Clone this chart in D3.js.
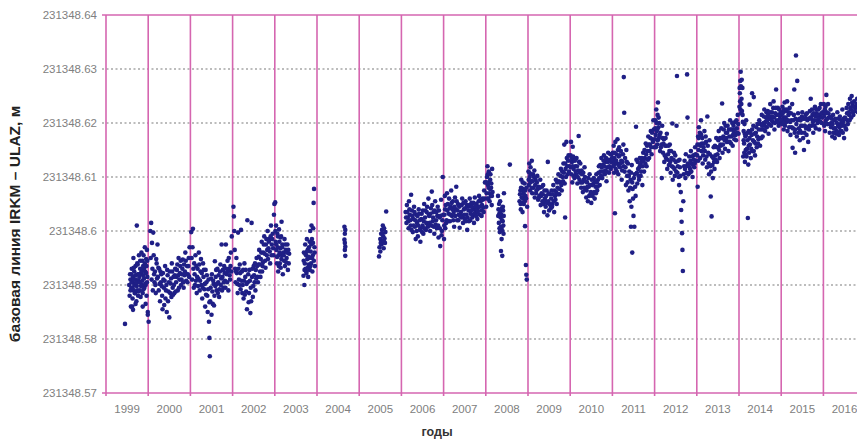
<!DOCTYPE html>
<html>
<head>
<meta charset="utf-8">
<script src="https://cdn.jsdelivr.net/npm/d3@7"></script>
<style>
    body { margin: 0; background: #fff; }
    svg { display: block; font-family: "Liberation Sans", Arial, sans-serif; }
</style>
</head>
<body>
<div id="chart-area"></div>
<script>

// base of the baseline length, metres; values below are mm above it
var BASE = 231348;

// [fraction of the year, mm above 231348 m]
var y1999 = [[.45,582.8],[.55,590],[.56,588],[.57,592],[.58,591],[.59,586],[.60,589.5],[.61,593],[.62,590.5],[.62,586],[.63,587.5],[.64,591.5],[.64,585.4],[.65,595],[.66,589],[.67,592.5],[.68,588.5],[.69,590.3],[.70,593.5],[.71,591],[.72,587],[.73,601],[.73,589.8],[.74,594],[.75,592],[.76,588],[.77,590.8],[.78,595.5],[.79,591.5],[.80,589],[.81,593],[.82,587.8],[.83,592.2],[.84,596],[.85,590],[.86,594.5],[.87,588.5],[.88,591.8],[.89,595.5],[.90,593],[.91,589.5],[.92,597],[.93,592.5],[.94,590],[.95,594.8],[.96,588],[.97,596.5],[.98,591.5],[.99,585],[.99,584.5],
    [.58,589],[.6,592],[.61,590.5],[.63,589.5],[.65,591],[.66,593.2],[.67,590],[.69,588.5],[.7,591.8],[.72,590.5],[.74,589],[.75,593.8],[.77,588.8],[.78,592],[.8,590.5],[.81,594.5],[.83,589.8],[.85,592.5],[.86,590.8],[.88,593.5],[.89,589.2],[.9,591.2],[.92,594],[.93,590.2],[.95,592.2],[.96,593.5],[.97,590.5],[.98,594.5],[.94,586.5],[.87,586],[.7,586.5]];
var y2000 = [[.01,583.2],[.05,600],[.06,595],[.07,601.5],[.08,591],[.09,597.8],[.1,593],[.11,589],[.12,599.7],[.13,595.5],[.15,590.5],[.16,592.5],[.18,588.5],[.2,594],[.22,597.5],[.23,591.5],[.25,589],[.26,593],[.28,587],[.3,590.5],[.31,592],[.33,588],[.34,585.5],[.36,591],[.37,589.5],[.38,586.3],[.4,593.5],[.41,587.5],[.43,590],[.44,585],[.46,591.8],[.48,588.8],[.5,584],[.51,592.5],[.53,590.3],[.55,587.8],[.56,594],[.58,589.5],[.6,591.5],[.62,588.5],[.64,593],[.66,590.5],[.68,592.8],[.7,589],[.72,595],[.74,591],[.76,593.5],[.78,590],[.8,592],[.82,594.7],[.84,589.5],[.86,591.8],[.88,596],[.9,590.8],[.92,593.5],[.94,592],[.96,595],[.98,597],
    [.14,592],[.17,590],[.19,594.8],[.21,591.2],[.24,593.2],[.27,590.2],[.29,592.5],[.32,589.8],[.35,592.2],[.39,590.8],[.42,589],[.45,592.8],[.47,587],[.49,590.5],[.52,588.5],[.54,591.2],[.57,592.5],[.59,588.2],[.61,590],[.63,591.8],[.65,588.8],[.67,591.5],[.69,593.8],[.71,591.8],[.73,589.5],[.75,592.2],[.77,594.5],[.79,591],[.81,593],[.83,590.5],[.85,593.8],[.87,592.5],[.89,594.5],[.91,592],[.93,590.5],[.95,593.5],[.97,591.5]];
var y2001 = [[.02,599.8],[.03,595],[.04,591],[.05,597],[.06,600.4],[.07,593],[.08,589.5],[.1,592],[.12,595.5],[.13,590.8],[.15,588.5],[.17,593],[.19,591.2],[.2,596],[.22,589],[.24,592.5],[.26,590],[.28,587.5],[.3,594],[.31,591.5],[.33,589.2],[.35,586],[.36,592.8],[.38,590.5],[.4,588],[.41,585],[.43,591],[.44,583.2],[.45,580.2],[.46,576.8],[.47,587],[.48,589.5],[.5,584.5],[.51,592],[.53,586.5],[.55,590.2],[.57,588],[.58,594.4],[.6,591.5],[.62,589],[.64,593],[.66,590.5],[.68,587.8],[.7,592.5],[.72,590],[.74,597.5],[.76,591.5],[.78,589.5],[.8,593.5],[.82,590.8],[.84,597.5],[.86,592],[.88,594.5],[.9,589],[.92,593],[.94,591],[.96,596],[.98,599],
    [.09,594],[.11,590],[.14,593.5],[.16,591.5],[.18,589.8],[.21,593.8],[.23,590.8],[.25,594.8],[.27,592.2],[.29,589.5],[.32,592.8],[.34,590.2],[.37,588.2],[.39,591.8],[.42,589.2],[.45,586.8],[.49,591.2],[.52,588.8],[.54,590.8],[.56,586.2],[.59,589.8],[.61,592.8],[.63,590.2],[.65,588.5],[.67,591.8],[.69,589.2],[.71,593.8],[.73,591.2],[.75,589],[.77,592.8],[.79,590.5],[.81,592.2],[.83,589.5],[.85,593],[.87,590.5],[.89,592.5],[.91,595],[.93,591.8],[.95,593.5],[.97,592.5]];
var y2002 = [[.02,604.5],[.03,602.7],[.04,600],[.05,596.5],[.06,593],[.07,590.5],[.09,595],[.1,592.2],[.12,588.5],[.13,599.7],[.15,591],[.17,593.8],[.19,589.2],[.2,600.2],[.22,592.5],[.24,590],[.26,587.5],[.28,594],[.3,591.5],[.32,588.8],[.34,585.5],[.35,602],[.36,590.5],[.38,586.8],[.4,592.8],[.42,584.8],[.43,589.5],[.45,601.5],[.46,591.5],[.48,587.8],[.5,593.5],[.52,590.5],[.55,592.8],[.57,595],[.59,591.5],[.61,593.8],[.63,596.5],[.65,592.5],[.67,594.8],[.69,598],[.71,593.5],[.73,596],[.75,599],[.77,594.5],[.79,597.5],[.81,595.5],[.83,600],[.85,596.8],[.87,598.5],[.89,594],[.91,601],[.93,597.5],[.95,599.5],[.97,595.5],[.98,603],[.99,605],
    [.08,592.5],[.11,590.2],[.14,593],[.16,590],[.18,592.2],[.21,590.8],[.23,588.5],[.25,592.8],[.27,590.8],[.29,588.2],[.31,592.8],[.33,590.2],[.37,592],[.39,588.5],[.41,590.8],[.44,587],[.47,593],[.49,589.8],[.51,591.8],[.53,594],[.54,589],[.56,591.2],[.58,593.5],[.6,590.5],[.62,595.2],[.64,593.8],[.66,591.5],[.68,596],[.7,592.5],[.72,594.2],[.74,597.5],[.76,595.8],[.78,593.2],[.8,598.5],[.82,596.5],[.84,594.8],[.86,598],[.88,596.2],[.9,599],[.92,595.5],[.94,598.5],[.96,596.8]];
var y2003 = [[.01,605.3],[.02,598],[.03,601],[.04,596.5],[.05,594],[.06,599.5],[.07,597],[.08,592.5],[.09,595.5],[.1,600.3],[.11,598],[.12,594],[.13,596.8],[.14,593.2],[.15,599],[.16,601.7],[.17,595.5],[.18,597.5],[.19,592],[.2,596],[.22,594.5],[.23,598.5],[.24,593.5],[.26,596.5],[.28,595],[.3,597.5],[.31,592.8],[.33,594],[.34,595.8],
    [.015,600],[.035,597.5],[.055,595.2],[.075,599],[.095,593.5],[.115,596],[.135,598.8],[.155,594.8],[.175,597],[.21,595.5],[.25,597.5],[.27,594.2],[.29,596],[.32,596.5],
    [.68,591.7],[.69,596],[.7,590],[.71,594],[.72,597.5],[.73,593],[.74,595.5],[.75,592.2],[.76,598.5],[.77,594.8],[.78,596.5],[.79,591.5],[.8,593.8],[.81,597],[.82,595],[.83,592.8],[.84,600],[.85,596.2],[.86,594],[.87,601],[.88,598.5],[.89,592.5],[.9,595.5],[.91,600.5],[.92,605.2],[.93,607.8],[.94,597],[.95,593.5],
    [.685,594.5],[.705,592.8],[.725,595.8],[.745,592.5],[.765,596.2],[.785,593.2],[.805,595.2],[.825,598],[.845,593.5],[.865,597.5],[.885,595],[.905,597.8],[.925,594.5],[.945,596]];
var y2004 = [[.65,600.8],[.67,600.2],[.66,599.5],[.65,598.4],[.66,597.8],[.67,597.1],[.67,595.4],[.66,596.5]];
var y2005 = [[.47,595.3],[.48,597],[.5,598.5],[.5,596.2],[.52,599.5],[.53,597.5],[.54,600.2],[.55,598],[.56,601],[.57,599],[.58,596.8],[.59,600.5],[.6,598.6],[.61,597.8],[.62,599.8],[.64,603.6],[.51,597.8],[.55,599.5],[.58,598.2]];
var y2006 = [[.1,603.5],[.12,601.5],[.13,604.8],[.15,602.5],[.17,600.5],[.18,605.5],[.2,603],[.22,601],[.23,606.7],[.25,603.8],[.27,599.8],[.28,602.2],[.3,604.5],[.32,600.8],[.34,598.5],[.35,603],[.37,601.5],[.39,599],[.41,604],[.43,602],[.45,598],[.46,600.5],[.48,603.2],[.5,601],[.52,599.5],[.54,605],[.56,602.5],[.58,600.2],[.6,603.5],[.62,601.2],[.64,606],[.66,602.8],[.68,600],[.7,604.2],[.72,607.3],[.74,601.8],[.76,603.5],[.78,599.5],[.8,605.5],[.82,602],[.84,600.5],[.86,604.5],[.88,598.8],[.9,602.5],[.92,597.2],[.94,605.8],[.96,600],[.98,610],[.99,603],
    [.11,602.5],[.14,603.5],[.16,601.8],[.19,604],[.21,602],[.24,600.2],[.26,602.8],[.29,601],[.31,603.5],[.33,602],[.36,600],[.38,602.8],[.4,601],[.42,603.2],[.44,600.2],[.47,602.2],[.49,599.8],[.51,603.8],[.53,601.8],[.55,600.5],[.57,603.8],[.59,601.5],[.61,604.5],[.63,600.8],[.65,603],[.67,601.5],[.69,603.2],[.71,601],[.73,604.8],[.75,602.5],[.77,600.8],[.79,603.8],[.81,601.2],[.83,603.5],[.85,602.8],[.87,601],[.89,603.8],[.91,600.5],[.93,602.8],[.95,599.2],[.97,602]];
var y2007 = [[.01,598.5],[.02,603],[.03,606.5],[.04,600.5],[.05,604.8],[.07,602],[.08,607],[.1,605],[.12,603.2],[.13,606],[.15,601.8],[.17,604.5],[.18,607.5],[.2,602.8],[.22,605.5],[.24,603.5],[.25,600.8],[.27,606.2],[.29,604],[.3,608.2],[.32,602],[.34,605],[.36,603],[.38,600.6],[.4,604.8],[.42,602.5],[.44,606],[.46,601.5],[.48,604],[.5,602.2],[.52,605.5],[.54,603],[.56,600.2],[.58,604.5],[.6,601.8],[.62,606],[.64,603.2],[.66,605.2],[.68,602.5],[.7,604],[.72,601.5],[.74,606.2],[.76,603.5],[.78,605],[.8,602.2],[.82,604.5],[.84,606.5],[.86,603],[.88,605.5],[.9,602.8],[.92,606],[.94,604.3],[.96,607.5],[.98,609],
    [.015,601],[.035,604],[.06,601.5],[.09,603.8],[.11,601.8],[.14,604.2],[.16,603],[.19,605.2],[.21,604],[.23,602],[.26,604.5],[.28,602.8],[.31,605.5],[.33,603.8],[.35,602],[.37,604.5],[.39,602.8],[.41,603.5],[.43,604.8],[.45,602.8],[.47,605.2],[.49,603],[.51,604.2],[.53,601.8],[.55,604.8],[.57,602.5],[.59,603.8],[.61,604.8],[.63,602],[.65,603.8],[.67,604.5],[.69,603],[.71,605.2],[.73,603.2],[.75,604.5],[.77,602.8],[.79,604],[.81,603.5],[.83,605.5],[.85,604.5],[.87,605.8],[.89,603.8],[.91,604.8],[.93,605.8],[.95,603.5],[.97,606]];
var y2008 = [[.01,604.5],[.02,607],[.03,610],[.04,612],[.05,608.5],[.06,606],[.07,611],[.08,609],[.09,605.5],[.1,607.8],[.11,610.5],[.12,606.5],[.13,608.8],[.14,604.8],[.15,611.5],[.16,607.2],[.29,606.5],[.3,604],[.31,601.5],[.32,603.2],[.33,599.8],[.34,605.5],[.35,602.5],[.36,596.3],[.37,600.5],[.38,604.2],[.39,595.4],[.4,601.8],[.41,603.8],[.42,599.5],[.43,607],[.57,612.3],[.8,605.5],[.82,607.5],[.83,604],[.84,609.5],[.85,606.2],[.87,603.5],[.88,607.8],[.9,605],[.92,608.8],[.93,600.9],[.94,606.5],[.95,593.7],[.96,591.9],[.97,591],[.98,604.5],
    [.015,609],[.035,606],[.045,610.5],[.065,608],[.085,607],[.105,609.5],[.125,608],[.145,606.5],
    [.295,602.8],[.315,605],[.325,600.5],[.345,603.5],[.355,600.8],[.365,603],[.375,598.5],[.385,602],[.395,600],[.405,604.5],[.415,601],[.425,602.8],
    [.81,606.8],[.825,605],[.835,608],[.855,607.5],[.865,605.2],[.875,609],[.885,606],[.895,607],[.91,606.5],[.925,605.5],[.935,607.5],[.955,606],[.965,608]];
var y2009 = [[.01,611],[.02,608.5],[.03,612.5],[.04,610],[.05,607.5],[.06,611.8],[.08,609.2],[.09,613],[.1,607],[.12,610.5],[.13,608],[.15,611.2],[.16,606.2],[.18,609.5],[.2,607.5],[.22,610.2],[.24,605.8],[.25,608.2],[.27,606.5],[.29,609.5],[.3,604.8],[.32,607],[.34,605.5],[.36,608.5],[.38,603.5],[.4,606],[.42,604.5],[.44,607.5],[.46,602.9],[.47,612.8],[.48,605.5],[.5,603.8],[.52,606.8],[.54,604.2],[.56,607.5],[.58,605],[.6,608.5],[.62,603.5],[.64,606.5],[.66,609.5],[.68,605],[.7,608],[.72,610.5],[.74,606.8],[.76,609],[.78,611.5],[.8,607.5],[.82,610],[.84,612.5],[.86,616],[.87,608.8],[.88,602.5],[.89,611.5],[.91,616.5],[.92,613.5],[.94,610.5],[.96,614],[.98,612],
    [.015,609.5],[.035,610.8],[.055,609],[.07,610.5],[.085,608],[.11,609.2],[.14,610],[.17,608.5],[.19,607],[.21,609],[.23,607.8],[.26,606.2],[.28,608],[.31,606.5],[.33,608.2],[.35,606.8],[.37,605],[.39,607.5],[.41,605.5],[.43,606.5],[.45,605.2],[.49,607],[.51,605],[.53,604.8],[.55,606],[.57,604.5],[.59,606.8],[.61,605.5],[.63,607.5],[.65,605.8],[.67,607.2],[.69,609],[.71,606.8],[.73,609.2],[.75,607.8],[.77,610.2],[.79,608.5],[.81,611],[.83,609.2],[.85,610.8],[.88,612.5],[.9,610],[.93,612],[.95,613],[.97,611]];
var y2010 = [[.01,614],[.02,616.5],[.03,610.5],[.04,612.8],[.05,609],[.06,615.6],[.08,611.5],[.09,613.2],[.1,609.8],[.12,612],[.14,610.5],[.15,613.5],[.17,608.8],[.19,611.2],[.2,617.6],[.22,609.5],[.24,612.5],[.26,608],[.28,610.5],[.3,607.2],[.32,609.5],[.34,611.8],[.36,607.8],[.38,606.2],[.4,609],[.42,605.5],[.44,608.2],[.46,610.5],[.48,606.8],[.5,605.2],[.52,608.5],[.54,607],[.56,609.8],[.58,606],[.6,608.2],[.62,610.5],[.64,607.5],[.66,609.5],[.68,612],[.7,608.5],[.72,611],[.74,613.5],[.76,609.8],[.78,612.2],[.8,614],[.82,610.5],[.84,612.8],[.86,609.2],[.88,611.8],[.9,614.5],[.92,610.8],[.94,613],[.96,611.5],[.98,614.2],
    [.015,611.8],[.035,613.5],[.055,612],[.07,613.8],[.085,610.2],[.11,613],[.13,611],[.16,612],[.18,610],[.21,612.8],[.23,610.8],[.25,609],[.27,611.2],[.29,609],[.31,610.8],[.33,608],[.35,610],[.37,609.2],[.39,607.5],[.41,608.2],[.43,609.8],[.45,606.5],[.47,608.5],[.49,607.2],[.51,609.5],[.53,606.5],[.55,608.8],[.57,607.2],[.59,609.2],[.61,607],[.63,609],[.65,608.2],[.67,610.8],[.69,609.8],[.71,612.2],[.73,610.2],[.75,611.8],[.77,611],[.79,613],[.81,612],[.83,611.2],[.85,613.5],[.87,611],[.89,612.8],[.91,613.2],[.93,612],[.95,614.2],[.97,612.8],[.99,613.5]];
var y2011 = [[.01,614.5],[.02,612],[.03,615.8],[.04,610.8],[.05,613.5],[.06,603.3],[.07,616.5],[.08,611.5],[.1,614.2],[.11,612.5],[.12,617],[.14,610.5],[.15,613.8],[.16,615.5],[.18,611.8],[.2,614.8],[.22,609.5],[.24,612.8],[.26,616],[.27,628.5],[.28,621.9],[.29,611],[.3,613.5],[.32,608.5],[.33,615],[.35,610.2],[.37,612.5],[.38,607.5],[.4,611],[.41,605.5],[.43,609.5],[.44,600.8],[.45,604.5],[.46,612.2],[.47,596],[.48,607.8],[.5,602.8],[.52,600.8],[.53,610.5],[.55,606.5],[.56,619.3],[.57,613.2],[.59,608.8],[.61,611.5],[.63,609.5],[.65,613.5],[.67,610.2],[.69,612.8],[.71,608.5],[.73,614.5],[.75,611],[.77,613.5],[.79,616.2],[.81,612],[.83,614.8],[.85,617.5],[.87,613.5],[.89,616],[.91,618.5],[.93,614.2],[.95,617],[.97,620.5],[.99,615.5],
    [.015,613],[.035,612.2],[.045,614.5],[.065,612.8],[.09,613],[.105,611],[.13,615],[.145,612.2],[.17,614],[.19,612.5],[.21,613],[.23,611.2],[.25,614.2],[.27,612],[.31,611.8],[.34,612.8],[.36,609],[.39,610.2],[.42,608],[.44,610.8],[.47,609],[.49,606],[.51,609.8],[.54,608.2],[.58,610.8],[.6,612.8],[.62,610.2],[.64,611.8],[.66,612.2],[.68,611],[.7,613.5],[.72,612],[.74,613],[.76,615],[.78,612.5],[.8,614.2],[.82,615.8],[.84,613.2],[.86,616],[.88,614.8],[.9,617.2],[.92,615.5],[.94,618.2],[.96,616.5],[.98,618.8]];
var y2012 = [[.01,617],[.02,620.5],[.03,615.5],[.04,622.5],[.05,618.5],[.06,616],[.07,621.5],[.08,623.8],[.09,619.2],[.1,617.2],[.11,620],[.13,614.8],[.14,618.2],[.16,616],[.17,609.8],[.18,619.5],[.2,614.5],[.22,617],[.23,612.8],[.25,615.8],[.27,613.5],[.29,618],[.3,611.5],[.32,614.2],[.34,612.2],[.36,616],[.38,610.8],[.4,613.5],[.42,619.9],[.43,609.5],[.44,611.8],[.46,614.5],[.48,610.2],[.5,612.8],[.52,619.5],[.53,628.7],[.54,610.8],[.56,613],[.58,608.5],[.6,611.8],[.62,607.2],[.63,603.9],[.64,601.7],[.65,599.6],[.66,596.5],[.67,592.6],[.68,605.5],[.69,610.5],[.71,613],[.73,609.8],[.75,612],[.77,629],[.78,621],[.8,610.5],[.82,613.8],[.84,611.5],[.86,614.8],[.88,612.5],[.9,610],[.92,614],[.94,611.8],[.96,615.5],[.98,613],
    [.015,619],[.025,617.8],[.045,620],[.065,618.8],[.075,616.8],[.095,621],[.12,617.8],[.15,615.5],[.19,617.2],[.21,616.2],[.24,614],[.26,617.2],[.28,615.8],[.31,613.2],[.33,615.8],[.35,614.8],[.37,612.8],[.39,614.8],[.41,612],[.45,613.2],[.47,611.5],[.49,614],[.51,611],[.55,612],[.57,610],[.59,613.2],[.61,610.2],[.7,612],[.72,611.5],[.74,614.2],[.76,610.8],[.79,612.5],[.81,612],[.83,610.8],[.85,613],[.87,611],[.89,613.8],[.91,612.2],[.93,613.2],[.95,612.5],[.97,614.2]];
var y2013 = [[.01,614],[.02,608.2],[.03,617.5],[.04,615],[.05,619.2],[.06,616],[.08,613.5],[.09,618],[.1,620.5],[.11,614.8],[.13,617.2],[.14,612.5],[.16,615.5],[.18,618.5],[.2,613.2],[.22,616.5],[.24,611.8],[.25,621.2],[.27,614.5],[.29,610.5],[.3,616.8],[.32,612],[.33,606.4],[.35,602.7],[.36,613.8],[.38,609.8],[.4,615.5],[.42,611.5],[.44,614],[.46,617.2],[.48,612.8],[.5,615.5],[.52,618.5],[.54,613.5],[.56,616],[.58,619],[.6,623.6],[.61,614.5],[.63,617.5],[.65,620],[.67,615.2],[.69,618.2],[.71,616.5],[.73,619.5],[.75,614.8],[.77,617.5],[.79,620.5],[.81,616.2],[.83,618.8],[.85,615.8],[.87,619.5],[.89,617],[.91,620.2],[.93,616.8],[.95,619],[.97,621.5],[.99,618],
    [.015,616],[.035,613],[.045,617.2],[.07,618.2],[.085,615.8],[.105,617.8],[.12,616.2],[.15,614],[.17,616.2],[.19,614.8],[.21,617.5],[.23,613.8],[.26,615.8],[.28,612.5],[.31,614.2],[.34,611],[.37,612.2],[.39,613.5],[.41,612.8],[.43,615.8],[.45,613.2],[.47,615.5],[.49,614.2],[.51,616.8],[.53,615],[.55,617.2],[.57,615.8],[.59,617.2],[.62,616],[.64,618.8],[.66,616.8],[.68,619.5],[.7,617.2],[.72,618.2],[.74,616.5],[.76,618.8],[.78,616.5],[.8,618.8],[.82,617.5],[.84,620],[.86,617.8],[.88,618.2],[.9,618.8],[.92,617.8],[.94,620.5],[.96,618.2],[.98,619.8]];
var y2014 = [[.01,623],[.02,625.5],[.03,627.8],[.04,629.5],[.05,621.8],[.06,624.5],[.07,622.2],[.08,626.5],[.09,620.2],[.1,613.8],[.11,618.5],[.12,616.2],[.13,619.8],[.14,612.8],[.15,617.5],[.16,615],[.17,620.5],[.18,613.8],[.2,616.8],[.21,602.4],[.22,612.3],[.23,618.5],[.24,614.5],[.25,623.4],[.26,616],[.28,613.5],[.3,617.8],[.31,625.5],[.32,614.8],[.34,619.5],[.35,624.8],[.36,616.5],[.38,614],[.4,618.2],[.42,615.5],[.44,619.8],[.46,617],[.48,620.5],[.5,615.8],[.52,618.8],[.54,621.5],[.56,617.5],[.58,620],[.6,622.5],[.62,618.5],[.64,621],[.66,619.2],[.68,622.2],[.7,618],[.72,620.8],[.74,623.5],[.76,619.5],[.78,622],[.8,620.2],[.82,624],[.84,618.8],[.86,621.8],[.88,626.2],[.9,620.5],[.92,622.8],[.94,619.5],[.96,621.5],[.98,620],
    [.015,626.5],[.025,624],[.035,622.5],[.045,626.8],[.055,623.5],[.065,628],[.085,621.5],[.11,616.8],[.125,614.5],[.135,618],[.155,614.2],[.165,617.8],[.19,615.2],[.21,618.2],[.23,615.8],[.25,617.2],[.27,618.2],[.29,615.2],[.31,618.8],[.33,616.8],[.35,614.8],[.37,618],[.39,616.2],[.41,619.2],[.43,617.5],[.45,616.2],[.47,618.8],[.49,617.2],[.51,619.8],[.53,617.2],[.55,619.5],[.57,618.8],[.59,621.2],[.61,619.5],[.63,620.2],[.65,622],[.67,620.5],[.69,621.5],[.71,619.8],[.73,622],[.75,621.2],[.77,620.5],[.79,621.2],[.81,622.8],[.83,621],[.85,620],[.87,622.8],[.89,621.5],[.91,620.2],[.93,621.5],[.95,622.5],[.97,620.8],[.99,622]];
var y2015 = [[.01,621.5],[.02,619.8],[.03,623],[.04,620.5],[.05,622.2],[.06,618.8],[.07,621],[.08,623.8],[.09,619.5],[.1,622.2],[.12,620.2],[.14,624],[.15,618.5],[.17,621.5],[.19,619.2],[.2,622.8],[.22,617.8],[.24,620.5],[.26,623.5],[.27,615.4],[.28,619],[.3,621.5],[.31,626.2],[.32,618.2],[.33,614.5],[.34,620.8],[.35,632.5],[.37,617.5],[.38,627.8],[.4,621.8],[.42,619],[.44,616.8],[.46,620.5],[.48,618.2],[.5,622],[.52,617.2],[.54,615],[.56,619.5],[.58,621.5],[.6,617.8],[.62,620.5],[.64,616.5],[.66,618.8],[.68,622.2],[.7,624.5],[.72,619.5],[.74,621.5],[.76,618.2],[.78,620.5],[.8,623],[.82,619],[.84,621.8],[.86,620],[.88,622.5],[.9,618.8],[.92,621.2],[.94,623.5],[.96,620],[.98,622],
    [.015,620.5],[.035,621.8],[.055,620],[.075,622.5],[.095,621],[.11,620.8],[.13,622.5],[.16,620.5],[.18,622],[.21,620.2],[.23,621.8],[.25,619.2],[.29,620.5],[.33,618.8],[.36,619.8],[.39,620.5],[.41,618.2],[.43,620.8],[.45,618.5],[.47,619.5],[.49,621.2],[.51,619.5],[.53,620.8],[.55,618.2],[.57,620.8],[.59,619],[.61,621.8],[.63,619.2],[.65,620.8],[.67,619.5],[.69,621],[.71,620.8],[.73,622.5],[.75,620.2],[.77,621.8],[.79,619.5],[.81,621.2],[.83,622.5],[.85,620.5],[.87,621.5],[.89,620.8],[.91,622.8],[.93,620.2],[.95,621.8],[.97,621]];
var y2016 = [[.01,623.5],[.02,619.5],[.03,621.8],[.04,618.5],[.05,623],[.06,620.5],[.07,625.2],[.08,622],[.1,619.8],[.11,623.5],[.13,621],[.15,618.2],[.17,622.5],[.19,620],[.21,617.5],[.23,621.5],[.25,619],[.27,617.2],[.29,620.8],[.31,618.5],[.33,622],[.35,619.5],[.37,617.8],[.39,621.2],[.41,619.8],[.43,618.5],[.45,622.5],[.47,620.2],[.49,617.2],[.51,621],[.53,619],[.55,622.8],[.57,620.5],[.59,623.5],[.61,621.5],[.63,624.5],[.65,622.5],[.67,625],[.69,623.2],[.71,621.5],[.73,624],[.76,622.8],[.8,624.5],[.83,623],
    [.015,621.2],[.035,622.5],[.045,620],[.065,621.8],[.09,620.8],[.12,621.8],[.14,619.8],[.16,621.2],[.18,619.2],[.2,620.8],[.22,619.8],[.24,618.2],[.26,620.5],[.28,619],[.3,618],[.32,620],[.34,618.2],[.36,620.8],[.38,619.2],[.4,618.5],[.42,620.5],[.44,619.5],[.46,618.2],[.48,620.8],[.5,619.5],[.52,620.8],[.54,618.8],[.56,621.8],[.58,619.8],[.6,622],[.62,620.5],[.64,622.8],[.66,621],[.68,623.8],[.7,622],[.72,623],[.74,622.2],[.78,623.5],[.82,622]];

var seriesByYear = {1999: y1999, 2000: y2000, 2001: y2001, 2002: y2002, 2003: y2003, 2004: y2004,
    2005: y2005, 2006: y2006, 2007: y2007, 2008: y2008, 2009: y2009, 2010: y2010, 2011: y2011,
    2012: y2012, 2013: y2013, 2014: y2014, 2015: y2015, 2016: y2016};

// axis labels
var years = d3.range(1999, 2017);
var yTicks = [231348.57, 231348.58, 231348.59, 231348.6, 231348.61, 231348.62, 231348.63, 231348.64];

var yLabel = "базовая линия IRKM – ULAZ, м";
var xLabel = "годы";


var width = 857, height = 439;
var margin = {top: 15, left: 106, bottom: 393};
var yearWidth = 42.2;

var svg = d3.select("#chart-area").append("svg")
    .attr("width", width)
    .attr("height", height);

// scales: one column per year, the chart runs on past the right edge
var x = d3.scaleLinear()
    .domain([1999, 2019])
    .range([margin.left, margin.left + 20 * yearWidth]);

var y = d3.scaleLinear()
    .domain([231348.57, 231348.64])
    .range([margin.bottom, margin.top]);

// flatten the yearly arrays into points
var points = [];
years.forEach(function(yr) {
    seriesByYear[yr].forEach(function(p) {
        points.push({t: yr + p[0], value: BASE + p[1] / 1000});
    });
});

// dotted grid lines
svg.selectAll(".grid")
    .data(yTicks.slice(1, -1))
    .enter().append("line")
    .attr("class", "grid")
    .attr("x1", margin.left - 4)
    .attr("x2", width)
    .attr("y1", function(d) { return y(d); })
    .attr("y2", function(d) { return y(d); })
    .attr("stroke", "#7a7a7a")
    .attr("stroke-width", 1.2)
    .attr("stroke-dasharray", "2,2.5");

// year boundary lines
svg.selectAll(".year-line")
    .data(d3.range(1999, 2019))
    .enter().append("line")
    .attr("class", "year-line")
    .attr("x1", function(d) { return x(d); })
    .attr("x2", function(d) { return x(d); })
    .attr("y1", margin.top)
    .attr("y2", margin.bottom + 3)
    .attr("stroke", "#d566b0")
    .attr("stroke-width", 1.6);

// top and bottom frame
[margin.top, margin.bottom].forEach(function(yy) {
    svg.append("line")
        .attr("x1", margin.left - 4)
        .attr("x2", width)
        .attr("y1", yy)
        .attr("y2", yy)
        .attr("stroke", "#d566b0")
        .attr("stroke-width", 1.6);
});

// the points
svg.append("g").selectAll("circle")
    .data(points)
    .enter().append("circle")
    .attr("cx", function(d) { return x(d.t); })
    .attr("cy", function(d) { return y(d.value); })
    .attr("r", 2.3)
    .attr("fill", "#1f1f86");

// y tick labels
svg.selectAll(".y-tick")
    .data(yTicks)
    .enter().append("text")
    .attr("class", "y-tick")
    .attr("x", 97)
    .attr("y", function(d) { return y(d) + 4; })
    .attr("text-anchor", "end")
    .attr("font-size", 11.5)
    .attr("fill", "#808080")
    .text(function(d) { return (+d.toFixed(2)).toString(); });

// x tick labels, centred in each year column
svg.selectAll(".x-tick")
    .data(years)
    .enter().append("text")
    .attr("class", "x-tick")
    .attr("x", function(d) { return x(d + 0.5); })
    .attr("y", 413)
    .attr("text-anchor", "middle")
    .attr("font-size", 11.5)
    .attr("fill", "#808080")
    .text(function(d) { return d; });

// axis titles
svg.append("text")
    .attr("transform", "translate(20," + 224 + ") rotate(-90)")
    .attr("text-anchor", "middle")
    .attr("font-size", 15.5)
    .attr("font-weight", "bold")
    .attr("fill", "#222")
    .text(yLabel);

svg.append("text")
    .attr("x", 437)
    .attr("y", 436)
    .attr("text-anchor", "middle")
    .attr("font-size", 12.5)
    .attr("font-weight", "bold")
    .attr("fill", "#333")
    .text(xLabel);

</script>
</body>
</html>
